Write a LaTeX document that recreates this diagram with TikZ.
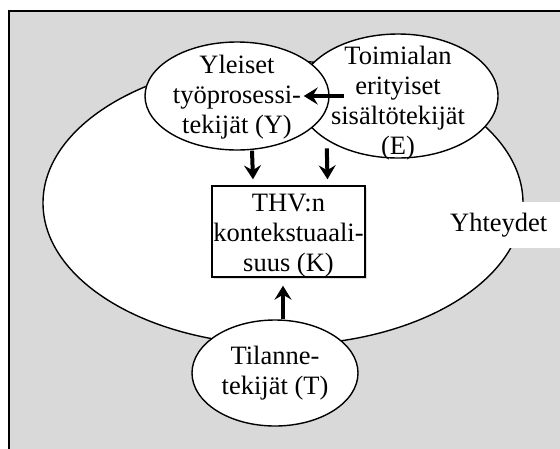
\documentclass[tikz,border=0pt]{standalone}
\usepackage{fontspec}
\setmainfont{Liberation Serif}
\usetikzlibrary{shapes.geometric}
\usetikzlibrary{arrows.meta,shadows}
\tikzset{>={Stealth[width=17pt,length=14pt,inset=5pt]}}
\definecolor{framegray}{HTML}{D9D9D9}
\newcommand{\BIGTXT}{\fontsize{26.5pt}{30pt}\selectfont}

\begin{document}
\begin{tikzpicture}[x=1pt,y=-1pt,
  bubble/.style={ellipse, draw, fill=white, line width=1.4pt, inner sep=0pt},
  txt/.style={align=center, font=\BIGTXT, inner sep=0pt},
  flow/.style={->, line width=4pt}]

  \useasboundingbox (0,0) rectangle (560,448);
  \clip (0,0) rectangle (560,448);
  \draw[fill=framegray, line width=2pt] (9,11) rectangle (600,480);

  %% outer ellipse + its label
  \node[bubble, minimum width=480pt, minimum height=284pt] (yht) at (283,203) {};
  \node[txt, fill=white, anchor=west, inner xsep=10pt, text width=120pt,
    align=left, minimum height=46pt] (yhtlbl) at (440,225) {Yhteydet};

  %% E behind Y
  \node[bubble, minimum width=200pt, minimum height=124pt] (E) at (398,96) {};
  \node[txt] (Etxt) at ([yshift=-7pt]E.center)
  {Toimialan\\erityiset\\sisältötekijät\\(E)};

  \node[bubble, minimum width=184pt, minimum height=108pt] (Y) at (237,96) {};
  \node[txt] (Ytxt) at ([yshift=-1pt]Y.center) {Yleiset\\työprosessi-\\tekijät (Y)};

  \node[draw, fill=white, line width=1.4pt, minimum width=153pt,
    minimum height=91pt, drop shadow={opacity=0.25, shadow xshift=1.5pt,
    shadow yshift=-1.5pt}] (K) at (288.5,231.5) {};
  \node[txt] (Ktxt) at ([yshift=-4pt]K.center) {THV:n\\kontekstuaali-\\suus (K)};

  \node[bubble, minimum width=166pt, minimum height=106pt] (T) at (275,373) {};
  \node[txt] (Ttxt) at (T.center) {Tilanne-\\tekijät (T)};

  \draw[flow] ([xshift=47pt]E.west) -- ([xshift=-26pt]Y.east); %% E -> Y
  \draw[flow] ([xshift=15pt]Y.south) -- ([xshift=-35.5pt,yshift=6pt]K.north); %% Y -> K
  \draw[flow] ([yshift=-8pt]E.south west) -- ([xshift=39pt,yshift=6pt]K.north); %% E -> K
  \draw[flow] ([xshift=8pt]T.north) -- ([xshift=-5.5pt,yshift=-8pt]K.south); %% T -> K

\end{tikzpicture}
\end{document}
